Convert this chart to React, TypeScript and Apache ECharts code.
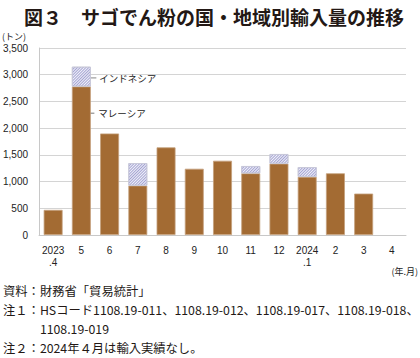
import React, { useEffect, useRef } from "react";
import * as echarts from "echarts";

const categories = ["2023\n.4", "5", "6", "7", "8", "9", "10", "11", "12", "2024\n.1", "2", "3", "4"];
const malaysia = [470, 2780, 1900, 925, 1640, 1240, 1390, 1155, 1335, 1090, 1155, 775, null];
const indonesia = [null, 370, null, 420, null, null, null, 135, 180, 180, null, null, null];
const yTicks = { min: 0, max: 3500, interval: 500 };
const titleText = "図３　サゴでん粉の国・地域別輸入量の推移";
const notes = [
  "資料：財務省「貿易統計」",
  "注１：HSコード1108.19-011、1108.19-012、1108.19-017、1108.19-018、",
  "　　　1108.19-019",
  "注２：2024年４月は輸入実績なし。",
];

const FONT = "'Noto Sans CJK JP', 'Liberation Sans', sans-serif";

export default function App() {
  const ref = useRef<HTMLDivElement>(null);
  useEffect(() => {
    document.body.style.margin = "0";
    const chart = echarts.init(ref.current!, undefined, { renderer: "svg" });
    const option: any = {
      animation: false,
      textStyle: { fontFamily: FONT },
      title: {
        text: titleText,
        left: 19,
        top: 2,
        textStyle: { fontSize: 19, fontWeight: "bold", color: "#231815", fontFamily: FONT },
      },
      grid: { left: 35, right: 14, top: 48, bottom: 123 },
      xAxis: {
        type: "category",
        data: categories,
        axisLine: { lineStyle: { color: "#c8c8c8" } },
        axisTick: { show: false },
        axisLabel: {
          interval: 0,
          color: "#222",
          fontSize: 10,
          margin: 9,
          lineHeight: 12,
          fontFamily: "'Liberation Sans', sans-serif",
        },
      },
      yAxis: {
        type: "value",
        min: yTicks.min,
        max: yTicks.max,
        interval: yTicks.interval,
        axisLine: { show: true, lineStyle: { color: "#c8c8c8" } },
        axisTick: { show: false },
        splitLine: { lineStyle: { color: "#d4d4d4", width: 1 } },
        axisLabel: {
          color: "#222",
          fontSize: 10,
          margin: 11,
          fontFamily: "'Liberation Sans', sans-serif",
          formatter: (v: number) => v.toLocaleString("en-US"),
        },
      },
      series: [
        {
          name: "マレーシア",
          type: "bar",
          stack: "total",
          data: malaysia,
          barCategoryGap: "33%",
          itemStyle: { color: "#a36b33", borderColor: "#c4a07c", borderWidth: 0.8 },
        },
        {
          name: "インドネシア",
          type: "bar",
          stack: "total",
          data: indonesia,
          itemStyle: {
            color: "#f2f2fa",
            borderColor: "#c8c8d8",
            borderWidth: 0.8,
            decal: {
              symbol: "rect",
              symbolSize: 1,
              color: "#a4a4d2",
              dashArrayX: [1, 0],
              dashArrayY: [1, 1],
              rotation: -Math.PI / 4,
            },
          },
        },
      ],
    };
    chart.setOption(option);

    const p1 = chart.convertToPixel({ gridIndex: 0 } as any, [1, 2940]) as number[];
    const p2 = chart.convertToPixel({ gridIndex: 0 } as any, [1, 2280]) as number[];
    const gx = p1[0];
    const graphics: any[] = [
      { type: "line", shape: { x1: gx + 9, y1: p1[1], x2: gx + 15, y2: p1[1] }, style: { stroke: "#888", lineWidth: 1 } },
      { type: "text", x: gx + 18, y: p1[1], style: { text: "インドネシア", fill: "#222", font: `9.5px ${FONT}`, verticalAlign: "middle" } },
      { type: "line", shape: { x1: gx + 5, y1: p2[1], x2: gx + 13, y2: p2[1] }, style: { stroke: "#777", lineWidth: 1 } },
      { type: "text", x: gx + 17, y: p2[1], style: { text: "マレーシア", fill: "#222", font: `9.5px ${FONT}`, verticalAlign: "middle" } },
      { type: "text", x: 2, y: 36, style: { text: "(トン)", font: `9px ${FONT}`, fill: "#222", verticalAlign: "middle" } },
      { type: "text", x: 418, y: 271, style: { text: "(年.月)", font: `9px ${FONT}`, fill: "#222", align: "right", verticalAlign: "middle" } },
    ];
    const noteY = [291, 310, 329, 348];
    notes.forEach((t, i) => {
      graphics.push({
        type: "text",
        x: 3,
        y: noteY[i],
        style: { text: t, font: `12.3px ${FONT}`, fill: "#231815", verticalAlign: "middle" },
      });
    });
    chart.setOption({ graphic: graphics });
    return () => chart.dispose();
  }, []);
  return <div ref={ref} style={{ width: 420, height: 358 }} />;
}
